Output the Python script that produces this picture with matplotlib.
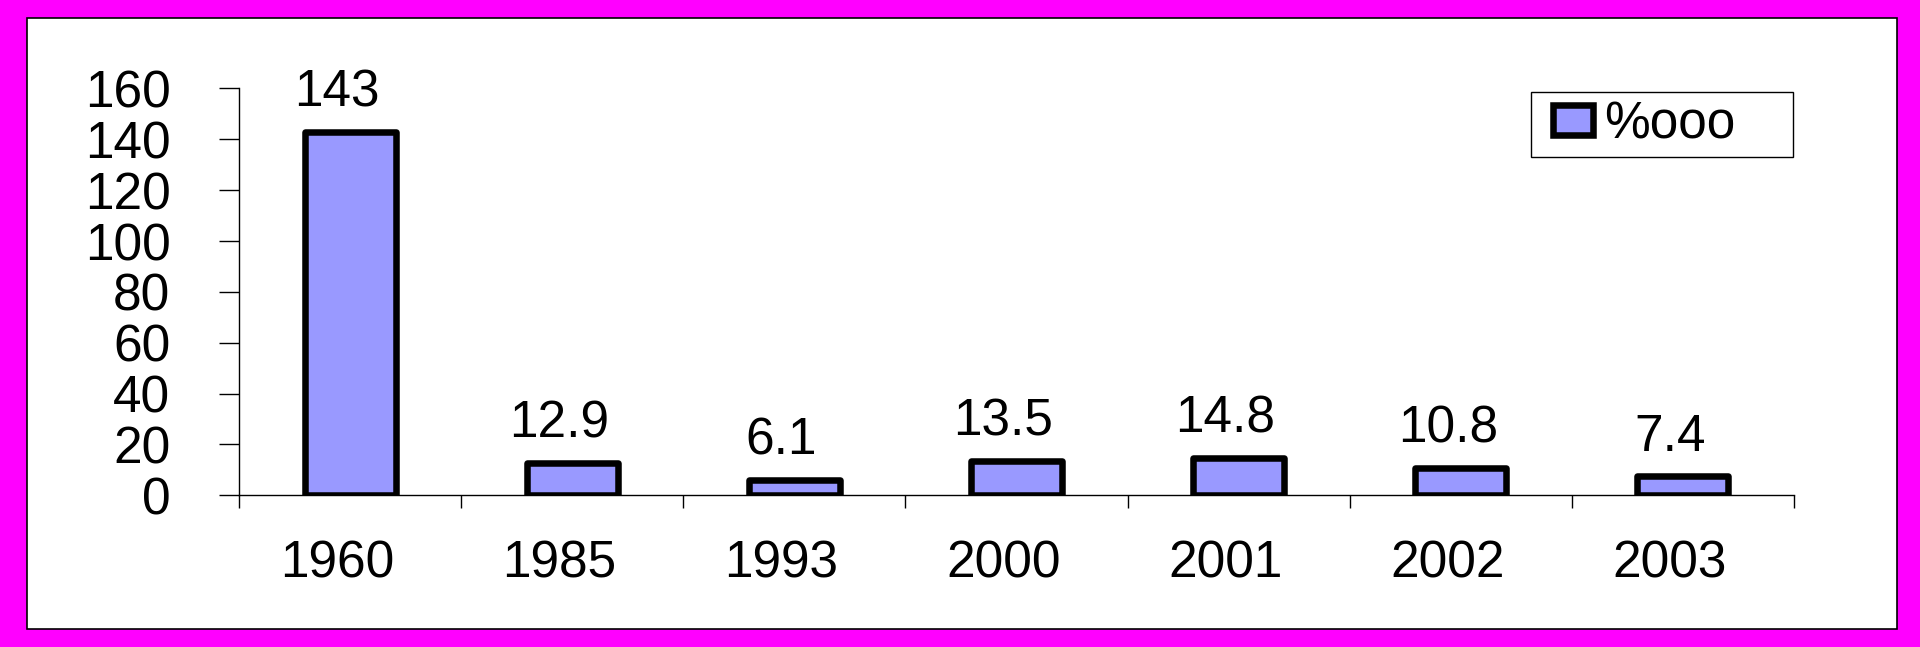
import matplotlib.pyplot as plt
from matplotlib.patches import Rectangle
from matplotlib.transforms import ScaledTranslation

# data
years = ['1960', '1985', '1993', '2000', '2001', '2002', '2003']
values = [143, 12.9, 6.1, 13.5, 14.8, 10.8, 7.4]
value_labels = ['143', '12.9', '6.1', '13.5', '14.8', '10.8', '7.4']
y_ticks = [0, 20, 40, 60, 80, 100, 120, 140, 160]

plt.rcParams['font.family'] = ['Liberation Sans', 'DejaVu Sans']
FS = 37

fig = plt.figure(figsize=(19.2, 6.47), dpi=100, facecolor='#ff00ff')

# white panel with thin black frame inside the magenta border
fig.patches.append(Rectangle((27 / 1920, 1 - 629 / 647), 1870 / 1920, 611 / 647,
                             transform=fig.transFigure, facecolor='white',
                             edgecolor='black', linewidth=1.2, zorder=-1))

ax = fig.add_axes([239 / 1920, 1 - 495.3 / 647, 1555 / 1920, 406.8 / 647])
ax.set_facecolor('none')

x = list(range(len(years)))
bars = ax.bar(x, values, width=0.41, color='#9999ff', edgecolor='black',
              linewidth=4.7, joinstyle='round', label='%ooo', zorder=3)

# the labels in the original sit a little left of the bar centres
for xi, v, lab in zip(x, values, value_labels):
    ax.annotate(lab, (xi, v), xytext=(-9.4, 18), textcoords='offset points',
                ha='center', va='baseline', fontsize=FS)

ax.set_xlim(-0.5, len(years) - 0.5)
ax.set_ylim(0, 160)
ax.set_yticks(y_ticks)
ax.set_yticklabels([str(t) for t in y_ticks], fontsize=FS)

# ticks at category boundaries, labels at centres
ax.set_xticks([i - 0.5 for i in range(len(years) + 1)])
ax.set_xticklabels([])
ax.set_xticks(x, minor=True)
ax.set_xticklabels(years, minor=True, fontsize=FS)
ax.tick_params(axis='x', which='major', direction='out', length=9.5, width=1, color='black')
ax.tick_params(axis='x', which='minor', length=0, pad=32)
ax.tick_params(axis='y', direction='out', length=14.4, width=1, pad=35)

shift = ScaledTranslation(-0.13, 0, fig.dpi_scale_trans)
for t in ax.xaxis.get_minor_ticks():
    t.label1.set_transform(t.label1.get_transform() + shift)

for s in ['top', 'right']:
    ax.spines[s].set_visible(False)
ax.spines['left'].set_linewidth(1)
ax.spines['bottom'].set_linewidth(1)

# legend: frame drawn separately so it can be as wide as the original box
fig.patches.append(Rectangle((1531 / 1920, 1 - 157 / 647), 262 / 1920, 65 / 647,
                             transform=fig.transFigure, facecolor='white',
                             edgecolor='black', linewidth=1, zorder=-0.5))
leg = ax.legend(loc='center left', bbox_to_anchor=(1553 / 1920, 1 - 125 / 647),
                bbox_transform=fig.transFigure, fontsize=FS, frameon=False,
                borderaxespad=0, borderpad=0, handlelength=0.78, handleheight=0.53,
                handletextpad=0.22)
leg.legend_handles[0].set_linewidth(4.7)

fig.savefig('out.png', dpi=100, facecolor=fig.get_facecolor())
